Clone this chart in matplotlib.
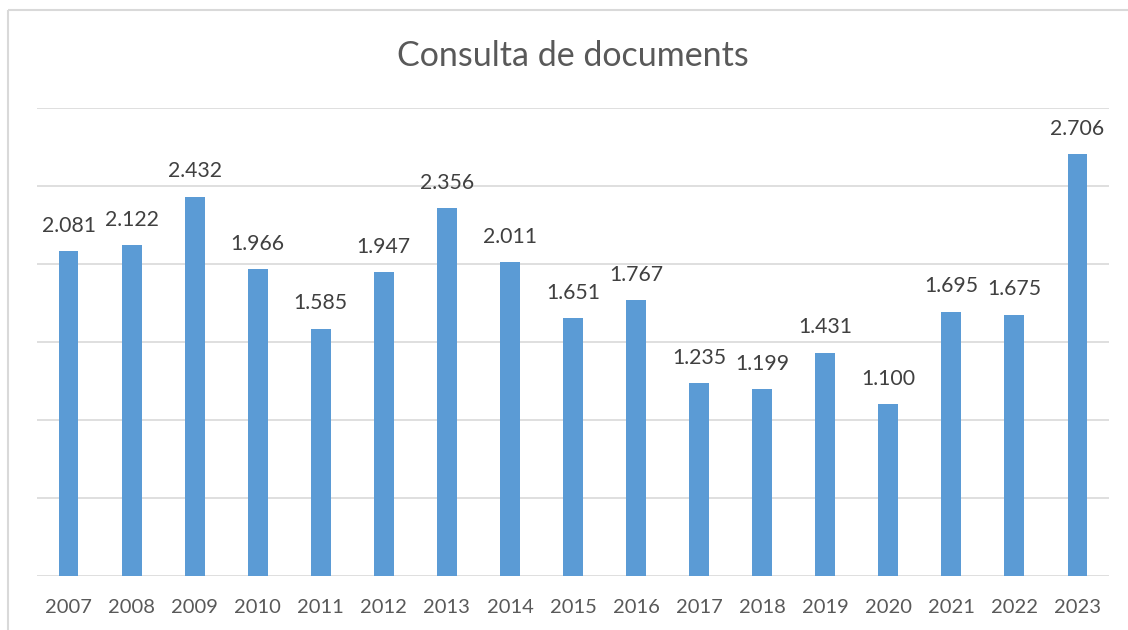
import matplotlib
matplotlib.use("Agg")
import matplotlib.pyplot as plt
from matplotlib.patches import Rectangle

years = ["2007", "2008", "2009", "2010", "2011", "2012", "2013", "2014", "2015",
         "2016", "2017", "2018", "2019", "2020", "2021", "2022", "2023"]
values = [2081, 2122, 2432, 1966, 1585, 1947, 2356, 2011, 1651,
          1767, 1235, 1199, 1431, 1100, 1695, 1675, 2706]
title = "Consulta de documents"

W, H = 1128, 630
fig = plt.figure(figsize=(W / 100, H / 100), dpi=100)
plt.rcParams['font.family'] = ['Lato', 'DejaVu Sans']

# chart frame
fig.patches.append(Rectangle((8 / W, 1 - 10 / H), 2, -2, transform=fig.transFigure,
                             fill=False, edgecolor="#D9D9D9", linewidth=1.5))

ax = fig.add_axes([37 / W, (H - 576) / H, (1109 - 37) / W, (576 - 108) / H])
x = list(range(len(years)))
bars = ax.bar(x, values, width=0.315, color="#5B9BD5", zorder=3)
ax.set_xlim(-0.5, len(years) - 0.5)
ax.set_ylim(0, 3000)
ax.set_yticks(range(0, 3001, 500))
ax.yaxis.grid(True, color="#D9D9D9", linewidth=1.2, zorder=0)
ax.tick_params(axis='y', left=False, labelleft=False)
ax.tick_params(axis='x', bottom=False, labelsize=14.5, labelcolor="#595959", pad=13)
ax.set_xticks(x)
ax.set_xticklabels(years)
for s in ax.spines.values():
    s.set_visible(False)

for xi, v in zip(x, values):
    lab = f"{v:,}".replace(",", ".")
    ax.annotate(lab, (xi, v), xytext=(0, 11), textcoords="offset points",
                ha="center", va="bottom", fontsize=15.3, color="#404040")

fig.text(573 / W, 1 - 56 / H, title, ha="center", va="center", fontsize=24.5, color="#595959")

fig.savefig("out.png", dpi=100)
